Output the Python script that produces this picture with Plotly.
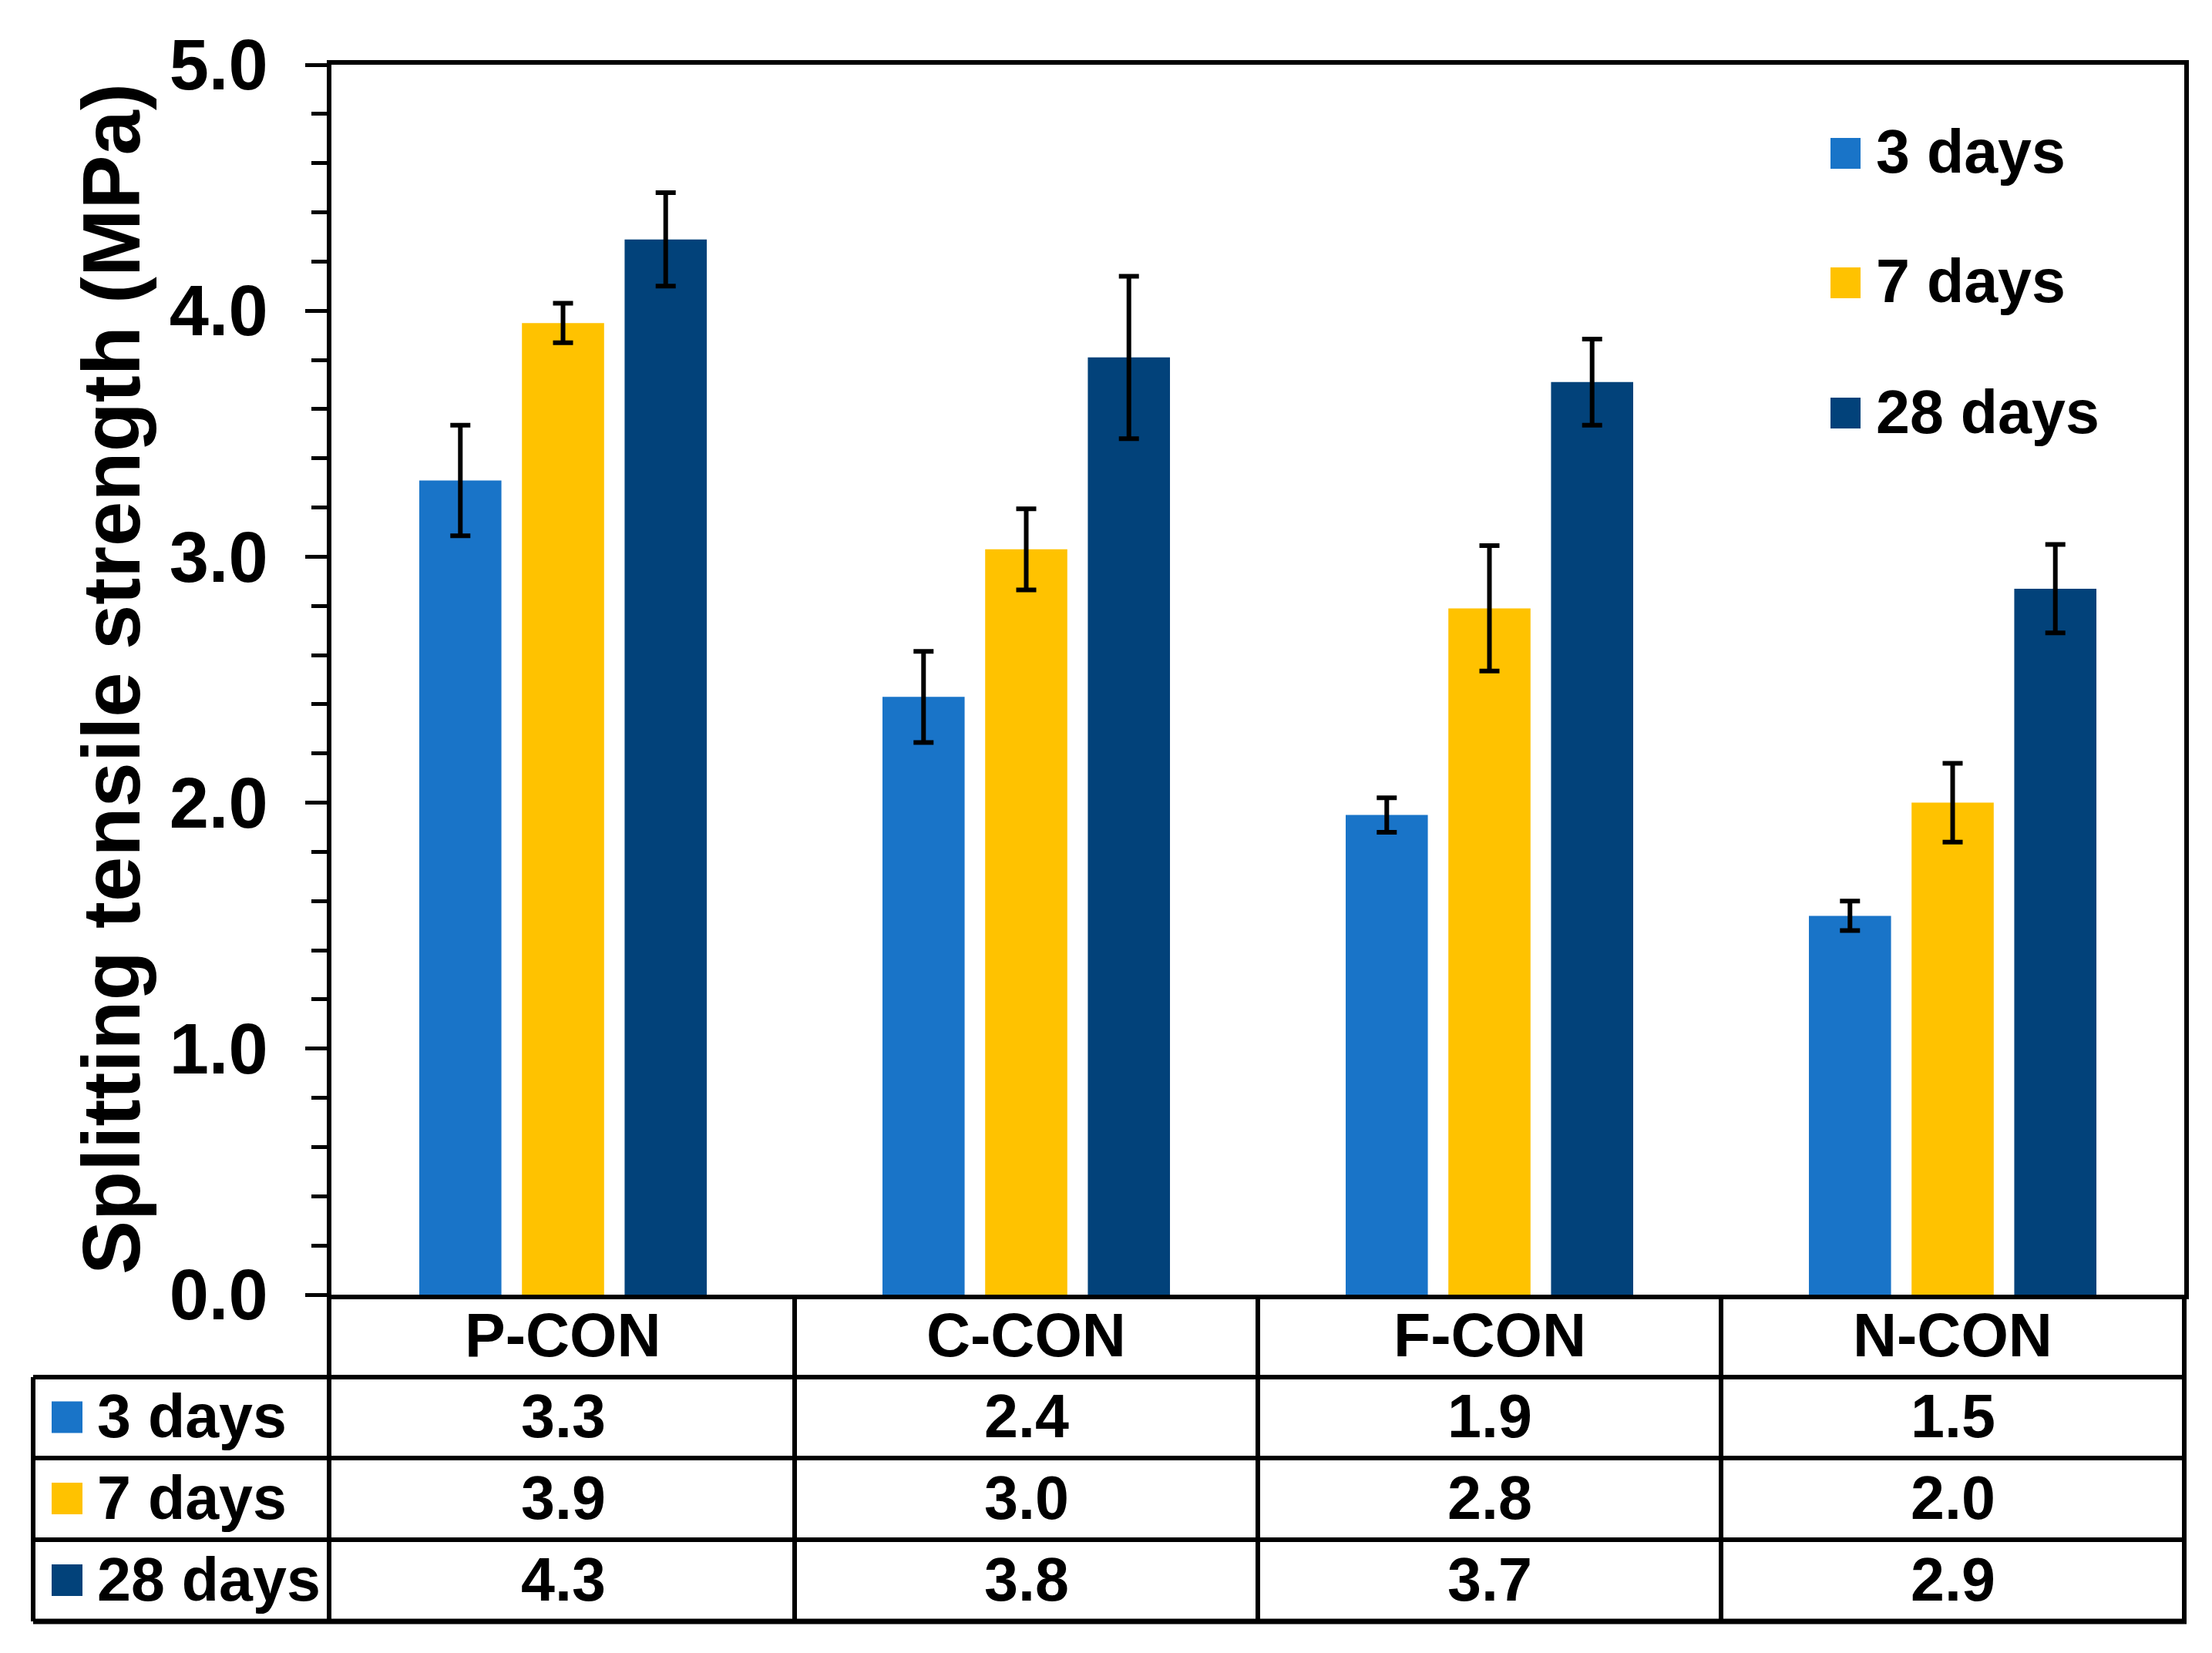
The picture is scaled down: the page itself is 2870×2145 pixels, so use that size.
import plotly.graph_objects as go

# ---------------- data ----------------
categories = ["P-CON", "C-CON", "F-CON", "N-CON"]
series_names = ["3 days", "7 days", "28 days"]
vals_3d = [3.31, 2.43, 1.95, 1.54]
vals_7d = [3.95, 3.03, 2.79, 2.00]
vals_28d = [4.29, 3.81, 3.71, 2.87]
err_3d = [0.225, 0.185, 0.07, 0.06]
err_7d = [0.08, 0.165, 0.255, 0.16]
err_28d = [0.19, 0.33, 0.175, 0.18]
table_3d = ["3.3", "2.4", "1.9", "1.5"]
table_7d = ["3.9", "3.0", "2.8", "2.0"]
table_28d = ["4.3", "3.8", "3.7", "2.9"]
y_ticks = [0, 1, 2, 3, 4, 5]
y_title = "Splitting tensile strength (MPa)"

colors = ["#1974C8", "#FFC200", "#02427A"]

# ---------------- layout constants (screen pixels) ----------------
SW, SH = 2870, 2145          # browser window
OFF = 8                      # default page body margin
PLOT_L, PLOT_R, PLOT_T, PLOT_B = 430, 2834, 84, 1680
W, H = SW - 2 * OFF, SH - 2 * OFF
PW = PLOT_R - PLOT_L
PH = PLOT_B - PLOT_T
FONT = "Liberation Sans, Arial, sans-serif"


def px_x(p):
    return (p - PLOT_L) / PW


def px_y(p):
    return (PLOT_B - p) / PH


fig = go.Figure()
series_vals = [vals_3d, vals_7d, vals_28d]
series_err = [err_3d, err_7d, err_28d]
for name, v, e, c in zip(series_names, series_vals, series_err, colors):
    fig.add_trace(go.Bar(
        name=name, x=categories, y=v, marker=dict(color=c, line=dict(width=0)),
        error_y=dict(type="data", array=e, visible=True, color="black",
                     thickness=6, width=13),
        showlegend=False,
    ))

shapes = []
annotations = []

# y-axis title
annotations.append(dict(
    text=y_title, textangle=-90, xref="paper", yref="paper",
    x=px_x(144), y=px_y(881), xanchor="center", yanchor="middle", showarrow=False,
    font=dict(family=FONT, size=105, color="black", weight="bold"),
))

# custom legend (top right)
leg_centers = [199, 367, 536]
for name, c, yc in zip(series_names, colors, leg_centers):
    shapes.append(dict(type="rect", xref="paper", yref="paper",
                       x0=px_x(2375), x1=px_x(2414),
                       y0=px_y(yc + 20), y1=px_y(yc - 20),
                       fillcolor=c, line=dict(width=0)))
    annotations.append(dict(
        text=name, xref="paper", yref="paper", x=px_x(2432), y=px_y(yc - 2),
        xanchor="left", yanchor="middle", showarrow=False,
        font=dict(family=FONT, size=79, color="black", weight="bold")))

# ---------------- data table below the axis ----------------
row_edges = [1682, 1787, 1892, 1998, 2104]
tbl_left = 43
lw = 6
# horizontal lines
for i, yp in enumerate(row_edges[1:]):
    shapes.append(dict(type="line", xref="paper", yref="paper",
                       x0=px_x(tbl_left), x1=px_x(2837), y0=px_y(yp), y1=px_y(yp),
                       line=dict(color="black", width=lw + (1 if i == 3 else 0))))
# vertical lines
shapes.append(dict(type="line", xref="paper", yref="paper",
                   x0=px_x(tbl_left), x1=px_x(tbl_left),
                   y0=px_y(row_edges[1]), y1=px_y(row_edges[-1]),
                   line=dict(color="black", width=lw)))
for xp in [427, 2834]:
    shapes.append(dict(type="line", xref="paper", yref="paper",
                       x0=px_x(xp), x1=px_x(xp),
                       y0=px_y(row_edges[0]), y1=px_y(row_edges[-1]),
                       line=dict(color="black", width=lw)))
for k in range(len(categories) - 1):
    shapes.append(dict(type="line", xref="x", yref="paper",
                       x0=k + 0.5, x1=k + 0.5,
                       y0=px_y(row_edges[0]), y1=px_y(row_edges[-1]),
                       line=dict(color="black", width=lw)))

row_centers = [(row_edges[i] + row_edges[i + 1]) / 2 for i in range(4)]
# header row: category names
for cat in categories:
    annotations.append(dict(
        text=cat, xref="x", yref="paper", x=cat, y=px_y(row_centers[0] - 2),
        xanchor="center", yanchor="middle", showarrow=False,
        font=dict(family=FONT, size=79, color="black", weight="bold")))
# data rows
for r, (name, c, labels) in enumerate(zip(series_names, colors,
                                           [table_3d, table_7d, table_28d])):
    yc = row_centers[r + 1]
    shapes.append(dict(type="rect", xref="paper", yref="paper",
                       x0=px_x(67), x1=px_x(107),
                       y0=px_y(yc + 20), y1=px_y(yc - 21),
                       fillcolor=c, line=dict(width=0)))
    annotations.append(dict(
        text=name, xref="paper", yref="paper", x=px_x(124), y=px_y(yc - 2),
        xanchor="left", yanchor="middle", showarrow=False,
        font=dict(family=FONT, size=79, color="black", weight="bold")))
    for cat, lab in zip(categories, labels):
        annotations.append(dict(
            text=lab, xref="x", yref="paper", x=cat, y=px_y(yc - 2),
            xanchor="center", yanchor="middle", showarrow=False,
            font=dict(family=FONT, size=79, color="black", weight="bold")))

fig.update_layout(
    width=W, height=H,
    margin=dict(l=PLOT_L - OFF, r=(SW - OFF) - PLOT_R,
                t=PLOT_T - OFF, b=(SH - OFF) - PLOT_B, pad=0),
    paper_bgcolor="white", plot_bgcolor="white",
    barmode="group", bargap=0.335, bargroupgap=0.2,
    font=dict(family=FONT, color="black"),
    showlegend=False,
    shapes=shapes,
    annotations=annotations,
    xaxis=dict(
        showticklabels=False, ticks="", showgrid=False, zeroline=False,
        showline=True, linecolor="black", linewidth=6, mirror=True,
    ),
    yaxis=dict(
        range=[0, 5], tickvals=y_ticks, tickformat=".1f",
        ticks="outside", ticklen=28, tickwidth=5, tickcolor="black",
        minor=dict(dtick=0.2, ticks="outside", ticklen=20, tickwidth=5,
                   tickcolor="black", showgrid=False),
        ticklabelstandoff=30,
        tickfont=dict(family=FONT, size=92, color="black", weight="bold"),
        showgrid=False, zeroline=False,
        showline=True, linecolor="black", linewidth=6, mirror=True,
    ),
)

fig.write_html("out.html")
